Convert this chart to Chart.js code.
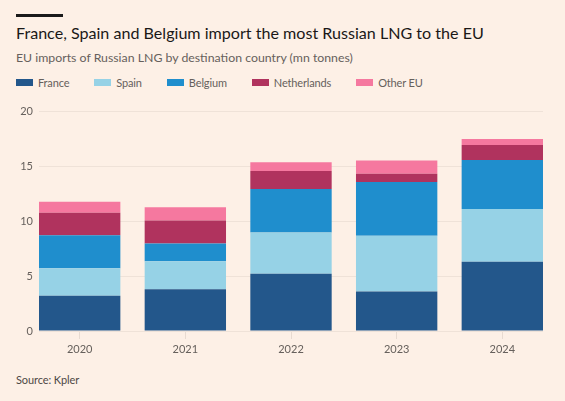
<!DOCTYPE html>
<html>
<head>
<meta charset="utf-8">
<script src="https://cdn.jsdelivr.net/npm/chart.js@4/dist/chart.umd.min.js"></script>
<style>
  html, body { margin: 0; padding: 0; background: #fdf0e6; }
  body { width: 565px; height: 401px; position: relative; overflow: hidden; font-family: Lato, "Open Sans", sans-serif; }
  #rule { position: absolute; left: 16px; top: 14px; width: 47px; height: 3px; background: #1a1a1a; }
  #title { position: absolute; left: 16px; top: 23px; font-size: 16.1px; color: #1a1817; white-space: nowrap; }
  #subtitle { position: absolute; left: 16px; top: 50px; font-size: 12.3px; color: #66605c; white-space: nowrap; }
  #legend { position: absolute; left: 16px; top: 75px; display: flex; font-size: 11px; letter-spacing: -0.15px; color: #66605c; }
  #legend .item { display: flex; align-items: center; margin-right: 25px; height: 14px; }
  #legend .sw { width: 17px; height: 7px; margin-right: 5px; }
  #source { position: absolute; left: 16px; top: 373px; font-size: 11px; letter-spacing: -0.1px; color: #4d4845; }
  #wrap { position: absolute; left: 0; top: 95px; width: 565px; height: 266px; }
</style>
</head>
<body>
<div id="rule"></div>
<div id="title">France, Spain and Belgium import the most Russian LNG to the EU</div>
<div id="subtitle">EU imports of Russian LNG by destination country (mn tonnes)</div>
<div id="legend"></div>
<div id="source">Source: Kpler</div>
<div id="wrap"><canvas id="chart"></canvas></div>

<script>
// values (mn tonnes)
var years = ['2020', '2021', '2022', '2023', '2024'];
var france      = [3.2, 3.8, 5.2, 3.6, 6.3];
var spain       = [2.5, 2.55, 3.75, 5.05, 4.8];
var belgium     = [3.0, 1.6, 3.95, 4.9, 4.45];
var netherlands = [2.05, 2.1, 1.65, 0.75, 1.35];
var otherEU     = [1.0, 1.2, 0.8, 1.2, 0.55];
var yTicks = [0, 5, 10, 15, 20];

var series = [
  { label: 'France', data: france, color: '#23578b' },
  { label: 'Spain', data: spain, color: '#96d2e6' },
  { label: 'Belgium', data: belgium, color: '#1f8ecd' },
  { label: 'Netherlands', data: netherlands, color: '#b0335e' },
  { label: 'Other EU', data: otherEU, color: '#f5789f' }
];

// html legend, built from the series list
var legend = document.getElementById('legend');
series.forEach(function (s) {
  var item = document.createElement('div');
  item.className = 'item';
  item.innerHTML = '<span class="sw" style="background:' + s.color + '"></span>' + s.label;
  legend.appendChild(item);
});

var axisFont = { family: 'Lato', size: 11 };
var tickColor = '#66605c';
var gridColor = '#efe2d8';

// bars sit flush with both ends of the plot, so the x axis is linear
// with half a bar of room on each side
var barFrac = 0.77;
var firstYear = +years[0];
var lastYear = +years[years.length - 1];

new Chart(document.getElementById('chart'), {
  type: 'bar',
  data: {
    labels: years,
    datasets: series.map(function (s) {
      return {
        label: s.label,
        data: s.data,
        backgroundColor: s.color,
        borderWidth: 0,
        barPercentage: barFrac,
        categoryPercentage: 1
      };
    })
  },
  options: {
    responsive: true,
    maintainAspectRatio: false,
    animation: false,
    layout: { padding: { top: 16, right: 22, left: 0, bottom: 0 } },
    plugins: {
      legend: { display: false },
      tooltip: { enabled: false }
    },
    scales: {
      x: {
        type: 'linear',
        stacked: true,
        offset: false,
        min: firstYear - barFrac / 2,
        max: lastYear + barFrac / 2,
        border: { display: false },
        grid: { offset: false, drawOnChartArea: false, drawTicks: true, tickLength: 8, color: '#e8dbd1' },
        ticks: {
          stepSize: 1,
          includeBounds: false,
          padding: 4,
          color: tickColor,
          font: axisFont,
          callback: function (v) { return years.indexOf(String(v)) >= 0 ? String(v) : ''; }
        },
        afterFit: function (scale) { scale.height = 30; }
      },
      y: {
        stacked: true,
        min: yTicks[0],
        max: yTicks[yTicks.length - 1],
        border: { display: false },
        grid: { color: gridColor, drawTicks: false },
        ticks: {
          stepSize: 5,
          padding: 6,
          color: tickColor,
          font: axisFont
        },
        afterFit: function (scale) { scale.width = 39; }
      }
    }
  }
});
</script>
</body>
</html>
